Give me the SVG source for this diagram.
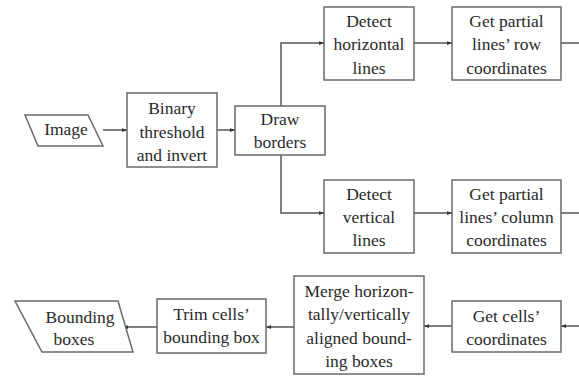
<svg xmlns="http://www.w3.org/2000/svg" width="579" height="376" viewBox="0 0 579 376">
<defs>
<marker id="ah" viewBox="0 0 8 8" refX="8" refY="4" markerWidth="5" markerHeight="5" orient="auto" markerUnits="userSpaceOnUse">
<path d="M0,1 L8,4 L0,7 Z" fill="#333"/>
</marker>
</defs>
<style>
svg text, g text, text { font-family: 'Liberation Serif', serif !important; }
.box{fill:#fff;stroke:#6a6a6a;stroke-width:1.5}
.lbl{font-size:17.5px;fill:#2a2a2a;text-anchor:middle}
.c{fill:none;stroke:#555;stroke-width:1.5}
</style>
<rect width="579" height="376" fill="#fff"/>
<g id="connectors">
<line class="c" x1="103" y1="130" x2="127" y2="130" marker-end="url(#ah)"/>
<line class="c" x1="217" y1="130" x2="235" y2="130" marker-end="url(#ah)"/>
<polyline class="c" points="281,106 281,43 324,43" marker-end="url(#ah)"/>
<polyline class="c" points="281,155 281,213 324,213" marker-end="url(#ah)"/>
<line class="c" x1="414" y1="43" x2="452" y2="43" marker-end="url(#ah)"/>
<line class="c" x1="414" y1="213" x2="452" y2="213" marker-end="url(#ah)"/>
<line class="c" x1="561" y1="43" x2="579" y2="43"/>
<line class="c" x1="561" y1="213" x2="579" y2="213"/>
<line class="c" x1="579" y1="326" x2="561" y2="326" marker-end="url(#ah)"/>
<line class="c" x1="452" y1="326" x2="424" y2="326" marker-end="url(#ah)"/>
<line class="c" x1="294" y1="327" x2="266" y2="327" marker-end="url(#ah)"/>
<line class="c" x1="157" y1="327" x2="123" y2="327" marker-end="url(#ah)"/>
</g>
<g id="image">
<polygon class="box" points="25,115 88,115 103,146 38,146"/>
<text class="lbl" style="font-family:'Liberation Serif',serif !important" x="66" y="135">Image</text>
</g>
<g id="binary">
<rect class="box" x="127" y="93" width="90" height="74"/>
<text class="lbl" style="font-family:'Liberation Serif',serif !important" x="172" y="114">Binary</text>
<text class="lbl" style="font-family:'Liberation Serif',serif !important" x="172" y="138">threshold</text>
<text class="lbl" style="font-family:'Liberation Serif',serif !important" x="172" y="161">and invert</text>
</g>
<g id="draw">
<rect class="box" x="235" y="106" width="90" height="49"/>
<text class="lbl" style="font-family:'Liberation Serif',serif !important" x="280" y="125">Draw</text>
<text class="lbl" style="font-family:'Liberation Serif',serif !important" x="280" y="148">borders</text>
</g>
<g id="detect-h">
<rect class="box" x="324" y="7" width="90" height="73"/>
<text class="lbl" style="font-family:'Liberation Serif',serif !important" x="369" y="27">Detect</text>
<text class="lbl" style="font-family:'Liberation Serif',serif !important" x="369" y="50">horizontal</text>
<text class="lbl" style="font-family:'Liberation Serif',serif !important" x="369" y="74">lines</text>
</g>
<g id="partial-row">
<rect class="box" x="452" y="7" width="109" height="73"/>
<text class="lbl" style="font-family:'Liberation Serif',serif !important" x="506.5" y="27">Get partial</text>
<text class="lbl" style="font-family:'Liberation Serif',serif !important" x="506.5" y="50">lines’ row</text>
<text class="lbl" style="font-family:'Liberation Serif',serif !important" x="506.5" y="74">coordinates</text>
</g>
<g id="detect-v">
<rect class="box" x="324" y="180" width="90" height="73"/>
<text class="lbl" style="font-family:'Liberation Serif',serif !important" x="369" y="200">Detect</text>
<text class="lbl" style="font-family:'Liberation Serif',serif !important" x="369" y="223">vertical</text>
<text class="lbl" style="font-family:'Liberation Serif',serif !important" x="369" y="246">lines</text>
</g>
<g id="partial-col">
<rect class="box" x="452" y="180" width="109" height="73"/>
<text class="lbl" style="font-family:'Liberation Serif',serif !important" x="506.5" y="200">Get partial</text>
<text class="lbl" style="font-family:'Liberation Serif',serif !important" x="506.5" y="223">lines’ column</text>
<text class="lbl" style="font-family:'Liberation Serif',serif !important" x="506.5" y="246">coordinates</text>
</g>
<g id="cells">
<rect class="box" x="452" y="301" width="109" height="51"/>
<text class="lbl" style="font-family:'Liberation Serif',serif !important" x="506.5" y="322">Get cells’</text>
<text class="lbl" style="font-family:'Liberation Serif',serif !important" x="506.5" y="345">coordinates</text>
</g>
<g id="merge">
<rect class="box" x="294" y="276" width="130" height="98"/>
<text class="lbl" style="font-family:'Liberation Serif',serif !important" x="359" y="297">Merge horizon-</text>
<text class="lbl" style="font-family:'Liberation Serif',serif !important" x="359" y="320">tally/vertically</text>
<text class="lbl" style="font-family:'Liberation Serif',serif !important" x="359" y="344">aligned bound-</text>
<text class="lbl" style="font-family:'Liberation Serif',serif !important" x="359" y="367">ing boxes</text>
</g>
<g id="trim">
<rect class="box" x="157" y="299" width="109" height="54"/>
<text class="lbl" style="font-family:'Liberation Serif',serif !important" x="211.5" y="320">Trim cells’</text>
<text class="lbl" style="font-family:'Liberation Serif',serif !important" x="211.5" y="343">bounding box</text>
</g>
<g id="bounding">
<polygon class="box" points="15,301 118,301 133,352 42,352"/>
<text class="lbl" style="font-family:'Liberation Serif',serif !important" x="80" y="323">Bounding</text>
<text class="lbl" style="font-family:'Liberation Serif',serif !important" x="74" y="345">boxes</text>
</g>
</svg>
